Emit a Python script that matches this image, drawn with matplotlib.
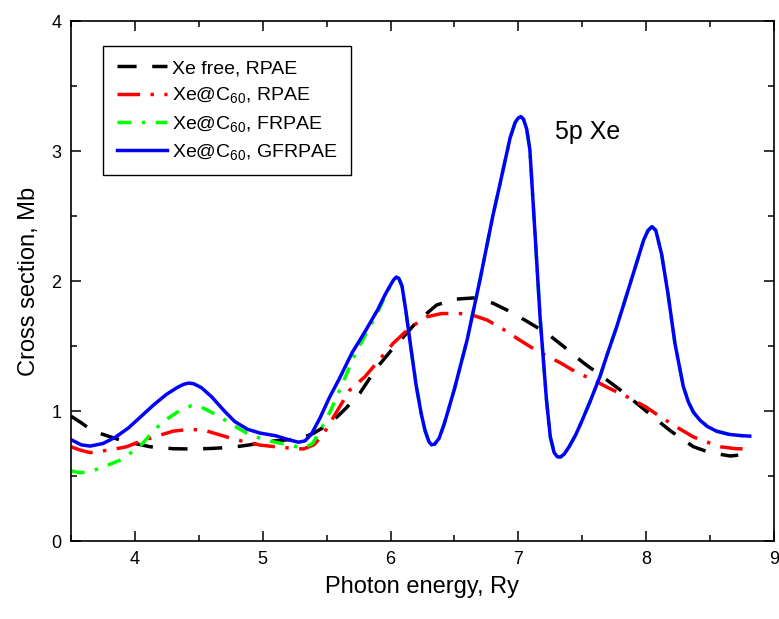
import numpy as np
import matplotlib.pyplot as plt
from matplotlib.ticker import MultipleLocator

plt.rcParams['font.family'] = ['Liberation Sans', 'DejaVu Sans']
plt.rcParams['mathtext.fontset'] = 'custom'
plt.rcParams['mathtext.rm'] = 'Liberation Sans'
plt.rcParams['mathtext.it'] = 'Liberation Sans:italic'

# Xe free, RPAE
free_x = [3.50, 3.58, 3.65, 3.75, 3.86, 4.00, 4.12, 4.30, 4.45, 4.60, 4.77, 4.90,
          5.03, 5.15, 5.29, 5.40, 5.53, 5.65, 5.76, 5.89, 6.00, 6.10, 6.20, 6.36,
          6.50, 6.65, 6.80, 6.91, 7.05, 7.22, 7.35, 7.51, 7.65, 7.80, 7.95, 8.085,
          8.20, 8.37, 8.50, 8.657, 8.72]
free_y = [0.96, 0.91, 0.86, 0.82, 0.785, 0.75, 0.725, 0.71, 0.708, 0.712, 0.722, 0.74,
          0.764, 0.775, 0.785, 0.83, 0.906, 1.02, 1.137, 1.33, 1.46, 1.57, 1.68, 1.815,
          1.86, 1.87, 1.83, 1.777, 1.70, 1.60, 1.50, 1.37, 1.27, 1.16, 1.04, 0.93,
          0.84, 0.725, 0.68, 0.654, 0.66]

# Xe@C60, RPAE
rpae_x = [3.50, 3.57, 3.65, 3.80, 3.935, 4.05, 4.20, 4.30, 4.43, 4.55, 4.72, 4.85,
          4.98, 5.10, 5.21, 5.32, 5.40, 5.47, 5.57, 5.68, 5.80, 5.90, 6.02, 6.15,
          6.285, 6.40, 6.54, 6.65, 6.755, 6.88, 7.01, 7.15, 7.33, 7.45, 7.585, 7.70,
          7.85, 8.00, 8.11, 8.25, 8.37, 8.48, 8.58, 8.70, 8.81]
rpae_y = [0.725, 0.70, 0.68, 0.70, 0.725, 0.77, 0.815, 0.845, 0.86, 0.85, 0.80, 0.765,
          0.738, 0.725, 0.715, 0.708, 0.74, 0.815, 0.98, 1.16, 1.264, 1.38, 1.52, 1.64,
          1.725, 1.75, 1.75, 1.735, 1.70, 1.63, 1.546, 1.46, 1.37, 1.30, 1.24, 1.18,
          1.11, 1.03, 0.956, 0.87, 0.80, 0.76, 0.725, 0.71, 0.708]

# Xe@C60, GFRPAE
gfr_x = [3.50, 3.58, 3.65, 3.75, 3.85, 3.95, 4.05, 4.15, 4.25, 4.33, 4.38, 4.42,
         4.46, 4.52, 4.60, 4.70, 4.78, 4.88, 4.98, 5.10, 5.20, 5.28, 5.33, 5.38,
         5.45, 5.52, 5.60, 5.70, 5.80, 5.90, 5.96, 6.00, 6.025, 6.045, 6.065, 6.09,
         6.12, 6.16, 6.20, 6.24, 6.27, 6.30, 6.32, 6.345, 6.38, 6.42, 6.50, 6.60,
         6.70, 6.80, 6.857, 6.935, 6.975, 7.00, 7.02, 7.04, 7.065, 7.09, 7.13, 7.17,
         7.22, 7.25, 7.28, 7.305, 7.33, 7.36, 7.40, 7.45, 7.50, 7.56, 7.64, 7.70,
         7.77, 7.84, 7.90, 7.98, 8.015, 8.045, 8.075, 8.12, 8.17, 8.225, 8.29, 8.33,
         8.37, 8.42, 8.48, 8.55, 8.65, 8.75, 8.81]
gfr_y = [0.78, 0.74, 0.73, 0.75, 0.80, 0.87, 0.96, 1.05, 1.13, 1.18, 1.205, 1.215,
         1.21, 1.18, 1.11, 1.00, 0.92, 0.86, 0.83, 0.81, 0.78, 0.76, 0.77, 0.82,
         0.95, 1.10, 1.25, 1.45, 1.61, 1.78, 1.90, 1.97, 2.01, 2.03, 2.02, 1.96,
         1.77, 1.48, 1.20, 0.98, 0.85, 0.765, 0.74, 0.745, 0.79, 0.90, 1.17, 1.55,
         2.01, 2.50, 2.75, 3.10, 3.22, 3.255, 3.265, 3.245, 3.17, 3.01, 2.37, 1.72,
         1.085, 0.80, 0.68, 0.648, 0.646, 0.67, 0.73, 0.82, 0.93, 1.07, 1.27, 1.45,
         1.65, 1.87, 2.06, 2.315, 2.39, 2.418, 2.39, 2.21, 1.905, 1.52, 1.19, 1.07,
         0.99, 0.93, 0.88, 0.845, 0.82, 0.81, 0.807]

# Xe@C60, FRPAE (below 6.05 Ry; above it lies under the GFRPAE curve)
fr_x = [3.50, 3.57, 3.65, 3.73, 3.88, 3.97, 4.06, 4.14, 4.22, 4.33, 4.44, 4.52,
        4.60, 4.665, 4.77, 4.875, 4.98, 5.08, 5.20, 5.29, 5.35, 5.39, 5.45, 5.53,
        5.62, 5.71, 5.80, 5.90, 5.97, 6.02]
fr_y = [0.54, 0.525, 0.535, 0.56, 0.62, 0.68, 0.75, 0.84, 0.918, 0.99, 1.04, 1.03,
        0.99, 0.956, 0.89, 0.83, 0.79, 0.764, 0.74, 0.72, 0.73, 0.75, 0.85, 1.0,
        1.20, 1.41, 1.58, 1.76, 1.91, 2.00]
tail = np.array(gfr_x) >= 6.045
fr_x = fr_x + list(np.array(gfr_x)[tail])
fr_y = fr_y + list(np.array(gfr_y)[tail])

fig = plt.figure(figsize=(7.79, 6.19), dpi=100)
ax = fig.add_axes([0.0911, 0.126, 0.9025, 0.840])

lw = 2.5
ax.plot(free_x, free_y, color='black', lw=lw, dashes=(5.5, 4.5), label='Xe free, RPAE')
ax.plot(rpae_x, rpae_y, color='red', lw=lw, dashes=(6.5, 3, 1, 3), label='Xe@C$_{60}$, RPAE')
ax.plot(fr_x, fr_y, color='#00ff00', lw=lw, dashes=(4, 3, 1, 3), label='Xe@C$_{60}$, FRPAE')
ax.plot(gfr_x, gfr_y, color='blue', lw=lw, label='Xe@C$_{60}$, GFRPAE')

ax.set_xlim(3.5, 9)
ax.set_ylim(0, 4)
ax.xaxis.set_major_locator(MultipleLocator(1))
ax.xaxis.set_minor_locator(MultipleLocator(0.5))
ax.yaxis.set_major_locator(MultipleLocator(1))
ax.yaxis.set_minor_locator(MultipleLocator(0.5))
ax.tick_params(which='both', direction='in', top=True, right=True, width=1.1)
ax.tick_params(which='major', length=7, labelsize=13, pad=7)
ax.tick_params(which='minor', length=4)
for s in ax.spines.values():
    s.set_linewidth(1.2)

ax.set_xlabel('Photon energy, Ry', fontsize=17, labelpad=6)
ax.set_ylabel('Cross section, Mb', fontsize=17, labelpad=8)
ax.text(7.29, 3.15, '5p Xe', fontsize=18, va='center', ha='left')

leg = ax.legend(loc='upper left', bbox_to_anchor=(0.0455, 0.952), borderaxespad=0,
                fontsize=14, handlelength=2.6, handletextpad=0.25, labelspacing=0.42,
                fancybox=False, edgecolor='black', framealpha=1, borderpad=0.7)
leg.get_frame().set_linewidth(1.0)

fig.savefig('out.png', dpi=100)
